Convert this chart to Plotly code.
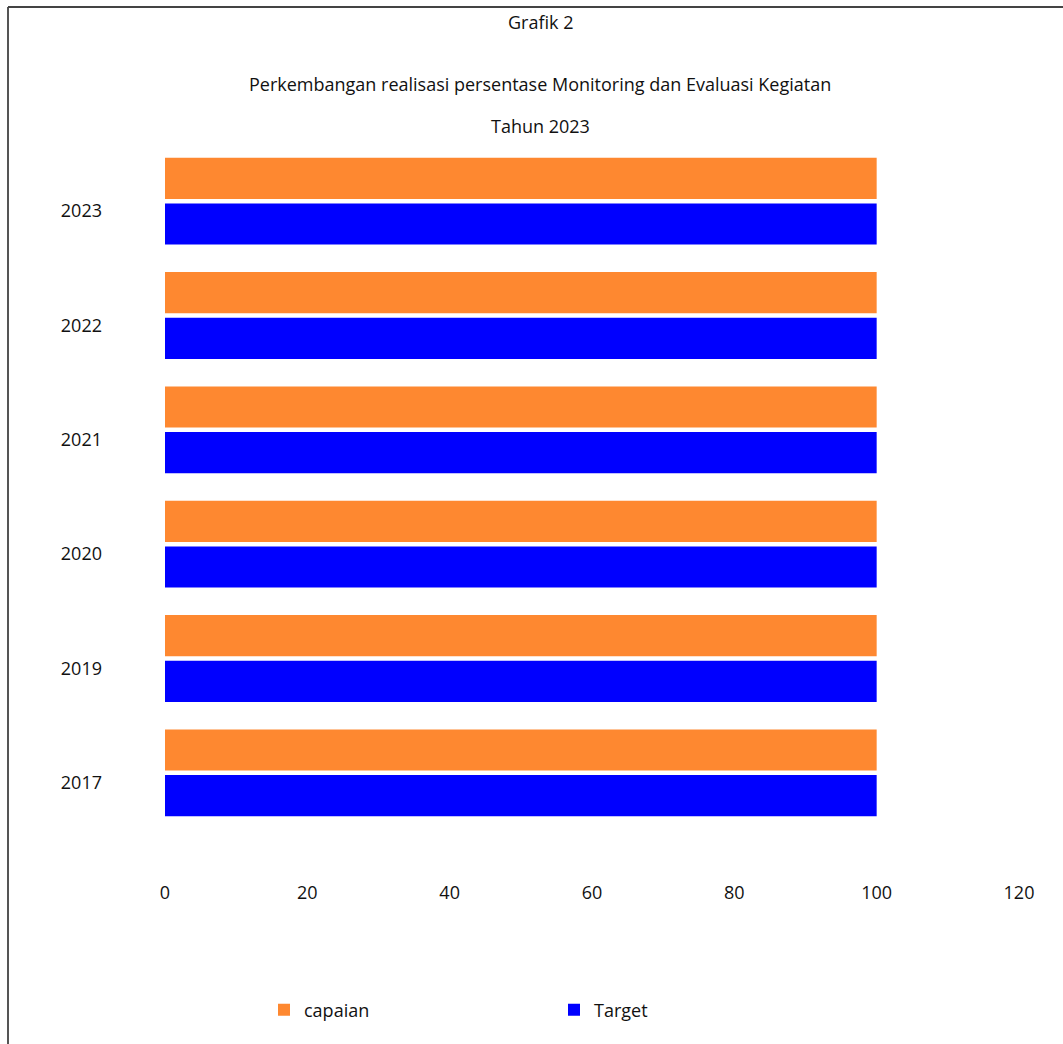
import plotly.graph_objects as go

years = ["2017", "2019", "2020", "2021", "2022", "2023"]
capaian = [100, 100, 100, 100, 100, 100]
target = [100, 100, 100, 100, 100, 100]
x_ticks = [0, 20, 40, 60, 80, 100, 120]

title_lines = [
    "Grafik 2",
    "Perkembangan realisasi persentase Monitoring dan Evaluasi Kegiatan",
    "Tahun 2023",
]

W, H = 1063, 1044
L, R, T, B = 165, 44, 144, 214
pw, ph = W - L - R, H - T - B

def px_x(p):
    return (p - L) / pw

def px_y(p):
    return (H - B - p) / ph

FONT = "Open Sans"
FS = 18
ORANGE = "#FE8830"
BLUE = "#0000FF"

fig = go.Figure()
fig.add_trace(go.Bar(y=years, x=target, name="Target", orientation="h",
                     marker=dict(color=BLUE, line=dict(width=0))))
fig.add_trace(go.Bar(y=years, x=capaian, name="capaian", orientation="h",
                     marker=dict(color=ORANGE, line=dict(width=0))))

annotations = []
for txt, py in zip(title_lines, [22, 84, 126]):
    annotations.append(dict(text=txt, x=px_x(540), y=px_y(py), xref="paper", yref="paper",
                            showarrow=False, xanchor="center", yanchor="middle",
                            font=dict(family=FONT, size=FS, color="#111111")))

shapes = [
    dict(type="line", xref="paper", yref="paper", x0=px_x(8), x1=px_x(8),
         y0=px_y(7), y1=px_y(H + 5), line=dict(color="#555555", width=2)),
    dict(type="line", xref="paper", yref="paper", x0=px_x(8), x1=px_x(W + 5),
         y0=px_y(7), y1=px_y(7), line=dict(color="#444444", width=2)),
]

fig.update_layout(
    width=W, height=H,
    margin=dict(l=L, r=R, t=T, b=B),
    paper_bgcolor="white", plot_bgcolor="white",
    barmode="group", bargap=0.2, bargroupgap=0.1,
    font=dict(family=FONT, size=FS, color="#111111"),
    xaxis=dict(range=[0, 120], tickvals=x_ticks, showgrid=False, zeroline=False,
               showline=False, ticks="", ticklabelstandoff=50,
               tickfont=dict(family=FONT, size=FS, color="#111111")),
    yaxis=dict(type="category", categoryorder="array", categoryarray=years,
               showgrid=False, zeroline=False, showline=False, ticks="",
               ticklabelstandoff=62, ticklabelshift=10,
               tickfont=dict(family=FONT, size=FS, color="#111111")),
    showlegend=True,
    legend=dict(orientation="h", traceorder="reversed", x=px_x(264), y=px_y(1010),
                xanchor="left", yanchor="middle", entrywidth=245, entrywidthmode="pixels",
                font=dict(family=FONT, size=FS, color="#111111"), bgcolor="rgba(0,0,0,0)"),
    annotations=annotations,
    shapes=shapes,
)

fig.write_html("out.html")
